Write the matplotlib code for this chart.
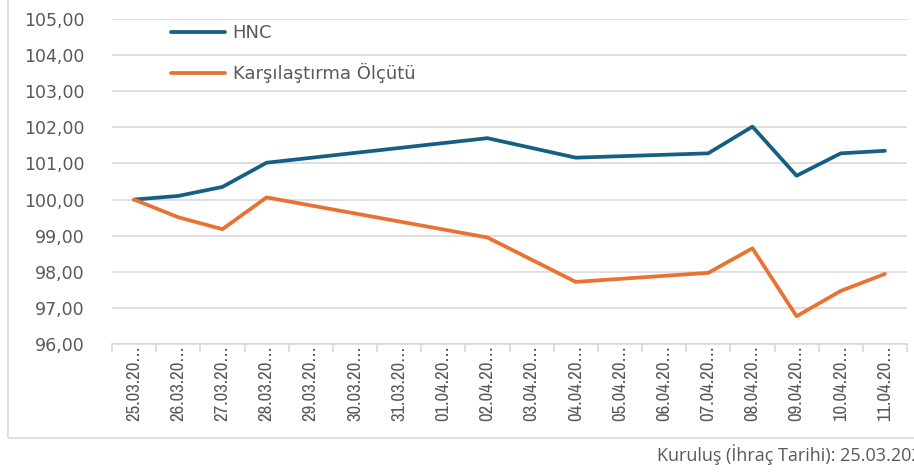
import numpy as np
import matplotlib.pyplot as plt
from matplotlib.patches import Rectangle
from matplotlib.ticker import FuncFormatter

dates = ["25.03.2025", "26.03.2025", "27.03.2025", "28.03.2025", "29.03.2025",
         "30.03.2025", "31.03.2025", "01.04.2025", "02.04.2025", "03.04.2025",
         "04.04.2025", "05.04.2025", "06.04.2025", "07.04.2025", "08.04.2025",
         "09.04.2025", "10.04.2025", "11.04.2025"]
# None = no value on that day (line is connected across)
hnc = [100.00, 100.10, 100.35, 101.02, None, None, None, None, 101.70, None,
       101.16, None, None, 101.28, 102.02, 100.66, 101.28, 101.35]
benchmark = [100.00, 99.51, 99.18, 100.06, None, None, None, None, 98.95, None,
             97.72, None, None, 97.97, 98.65, 96.77, 97.47, 97.94]

blue = "#156082"
orange = "#E97132"
gray_txt = "#595959"
grid_c = "#D9D9D9"

fig = plt.figure(figsize=(9.14, 4.73), dpi=100)
# chart frame
fig.patches.append(Rectangle((8 / 914, 35 / 473), 1.0, 1.0, transform=fig.transFigure,
                             fill=False, edgecolor=grid_c, lw=1.2))
ax = fig.add_axes([112 / 914, 129 / 473, 795 / 914, 325 / 473])

def series(vals):
    x = np.array([i for i, v in enumerate(vals) if v is not None])
    y = np.array([v for v in vals if v is not None])
    return x, y

x1, y1 = series(hnc)
x2, y2 = series(benchmark)
ax.plot(x1, y1, color=blue, lw=2.7, solid_capstyle="round", solid_joinstyle="round", label="HNC")
ax.plot(x2, y2, color=orange, lw=2.7, solid_capstyle="round", solid_joinstyle="round",
        label="Karşılaştırma Ölçütü")

ax.set_xlim(-0.5, len(dates) - 0.5)
ax.set_ylim(96, 105)
ax.set_yticks(np.arange(96, 106, 1))
ax.yaxis.set_major_formatter(FuncFormatter(lambda v, p: f"{v:.2f}".replace(".", ",")))
ax.grid(axis="y", color=grid_c, lw=1.2)
ax.set_axisbelow(True)
for s in ["top", "right", "left"]:
    ax.spines[s].set_visible(False)
ax.spines["bottom"].set_color(grid_c)
ax.spines["bottom"].set_linewidth(1.2)

ax.tick_params(axis="y", length=0, pad=20, labelsize=12.5, labelcolor=gray_txt)
ax.set_xticks(np.arange(len(dates)))
ax.set_xticklabels([d[:8] + "…" for d in dates], rotation=90, fontsize=13.5,
                   family=["Archivo Narrow", "Liberation Sans"], color=gray_txt)
ax.tick_params(axis="x", length=0, pad=1)
ax.set_xticks(np.arange(len(dates) + 1) - 0.5, minor=True)
ax.tick_params(axis="x", which="minor", length=6, color=grid_c, width=1.2)

leg = ax.legend(loc="upper left", bbox_to_anchor=(0.054, 1.035), frameon=False,
                fontsize=13, handlelength=3.0, handletextpad=0.4, labelspacing=1.18)
for t in leg.get_texts():
    t.set_color(gray_txt)

fig.text(657 / 914, 1 - 455 / 473, "Kuruluş (İhraç Tarihi): 25.03.2025", fontsize=13,
         family="Open Sans", color=gray_txt, ha="left", va="center")

fig.savefig("out.png", dpi=100)
